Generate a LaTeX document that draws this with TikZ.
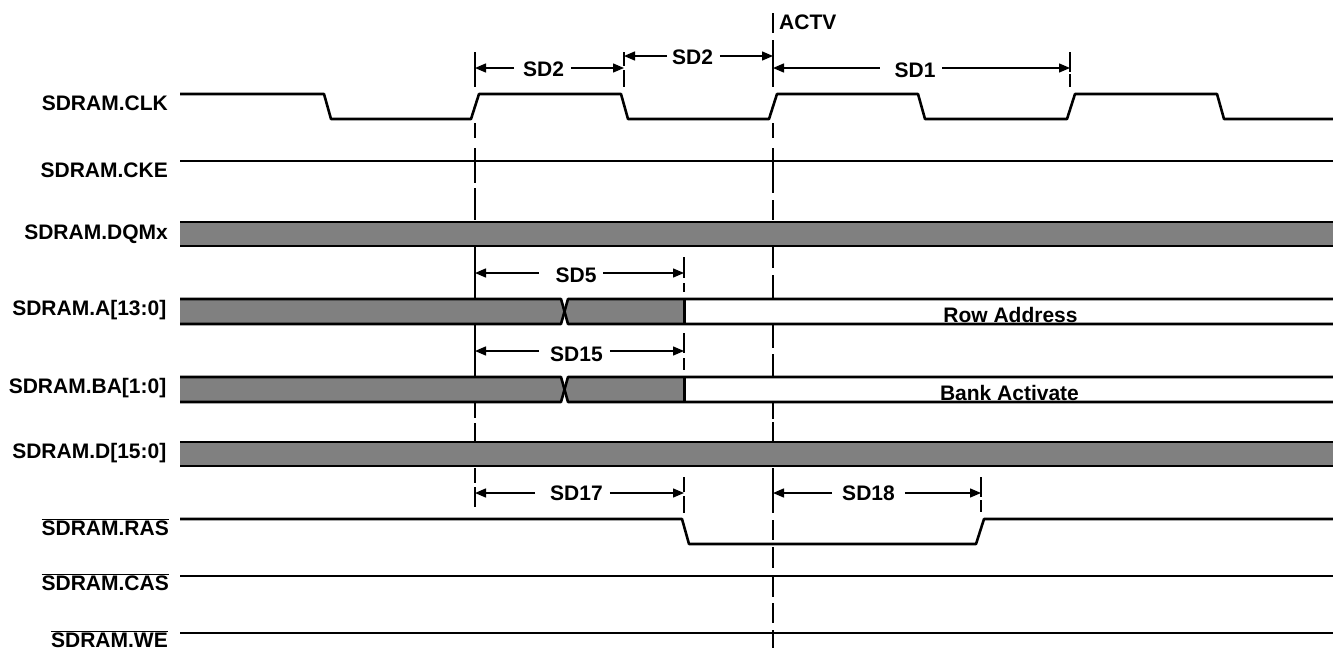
\documentclass[tikz,border=0pt]{standalone}
\usepackage{fontspec}
\setmainfont{Liberation Sans}
\usetikzlibrary{arrows.meta, calc, positioning}
\definecolor{bus}{RGB}{128,128,128}

\begin{document}
\begin{tikzpicture}[
  x=1pt, y=-1pt,
  every node/.style={font=\fontsize{21}{24}\selectfont\bfseries, inner sep=0pt},
  signame/.style={anchor=base east},
  wave/.style={draw, line width=2.6pt, line join=round},
  busfill/.style={fill=bus},
  tick/.style={draw, line width=1.4pt},
  dim/.style={draw, line width=1.4pt, -{Triangle[length=11pt,width=9pt]}},
  dimlabel/.style={text height=#1, text depth=0pt, outer xsep=7pt},
  dimlabel/.default=15pt,
]
\useasboundingbox (0,0) rectangle (1333,648);

% vertical time marks
\foreach \a/\b in {52/87,123/138,148/183,188/220,247/298,325/377,403/418,423/442,468/483,487/507}
  \draw[tick] (475,\a) -- (475,\b);
\foreach \a/\b in {13/33,40/87,123/138,148/193,200/220,247/268,275/298,325/348,354/377,403/419,422/442,468/513,520/540,547/568,575/597,603/623,630/648}
  \draw[tick] (773,\a) -- (773,\b);
\foreach \a/\b in {52/66,70/87}
  \draw[tick] (624,\a) -- (624,\b);
\foreach \a/\b in {52/72,74/87}
  \draw[tick] (1070,\a) -- (1070,\b);
\foreach \a/\b in {257/278,283/292,333/353,358/370,477/492,496/513}
  \draw[tick] (684,\a) -- (684,\b);
\foreach \a/\b in {477/497,500/512}
  \draw[tick] (981,\a) -- (981,\b);
\coordinate (tA) at (475,0);
\coordinate (tB) at (624,0);
\coordinate (tC) at (773,0);
\coordinate (tD) at (1070,0);
\coordinate (tE) at (684,0);
\coordinate (tF) at (981,0);

% signal names
\node[signame] (clk) at (168,110) {SDRAM.CLK};
\node[signame] (cke) at (168,177) {SDRAM.CKE};
\node[signame] (dqm) at (168,239.5) {SDRAM.DQMx};
\node[signame] (addr) at (166.5,315) {SDRAM.A[13:0]};
\node[signame] (bank) at (166.5,393.5) {SDRAM.BA[1:0]};
\node[signame] (data) at (166.5,458) {SDRAM.D[15:0]};
\node[signame] (ras) at (169,535) {$\overline{\mbox{SDRAM.RAS}}$};
\node[signame] (cas) at (169,590) {$\overline{\mbox{SDRAM.CAS}}$};
\node[signame] (we) at (168,647) {$\overline{\mbox{SDRAM.WE}}$};

% clock
\draw[wave] (180,94) -- (324,94) -- (331,119) -- (471,119) -- (479,94) -- (621,94)
  -- (628,119) -- (769,119) -- (777,94) -- (918,94) -- (925,119) -- (1067,119)
  -- (1075,94) -- (1217,94) -- (1224,119) -- (1333,119);

% flat lines
\foreach \y in {161,576,633}
  \draw[wave] (180,\y) -- (1333,\y);
\draw[wave] (180,519) -- (682,519) -- (689,544) -- (976,544) -- (984,519) -- (1333,519);

% full width buses
\foreach \t/\b in {222/246,442/466} {
  \fill[busfill] (180,\t) rectangle (1333,\b);
  \draw[wave] (180,\t) -- (1333,\t);
  \draw[wave] (180,\b) -- (1333,\b);
}

% buses that change value
\foreach \t/\m/\b in {299/311.5/324,377/389.5/402} {
  \fill[busfill] (180,\t) -- (561,\t) -- (564.5,\m) -- (561,\b) -- (180,\b) -- cycle;
  \fill[busfill] (568,\t) -- (564.5,\m) -- (568,\b) -- (684,\b) -- (684,\t) -- cycle;
  \draw[wave] (180,\t) -- (561,\t) -- (568,\b) -- (1333,\b);
  \draw[wave] (180,\b) -- (561,\b) -- (568,\t) -- (1333,\t);
  \draw[line width=3pt] (684,\t) -- (684,\b);
}
\node[anchor=base] (rowaddr) at (1010.5,322) {Row Address};
\node[anchor=base] (bankact) at (1009.5,400) {Bank Activate};

% timing labels
\node[anchor=west] (actv) at (779,22) {ACTV};
\node[dimlabel=17pt] (sdA) at (543.5,68) {SD2};
\node[dimlabel=17pt] (sdB) at (692.5,56) {SD2};
\node[dimlabel=19pt] (sdC) at (915,68) {SD1};
\node[dimlabel=19pt] (sdD) at (576,273) {SD5};
\node[dimlabel=21pt] (sdE) at (576.5,351) {SD15};
\node[dimlabel=14pt] (sdF) at (576.5,493) {SD17};
\node[dimlabel] (sdG) at (868.5,493) {SD18};

\draw[dim] ([xshift=-2pt]sdA.west) -- (sdA.west -| tA);
\draw[dim] (sdA.east) -- (sdA.east -| tB);
\draw[dim] ([xshift=2pt]sdB.west) -- (sdB.west -| tB);
\draw[dim] (sdB.east) -- (sdB.east -| tC);
\draw[dim] ([xshift=-8pt]sdC.west) -- (sdC.west -| tC);
\draw[dim] (sdC.east) -- (sdC.east -| tD);
\draw[dim] ([xshift=-10pt]sdD.west) -- (sdD.west -| tA);
\draw[dim] (sdD.east) -- (sdD.east -| tE);
\draw[dim] ([xshift=-4pt]sdE.west) -- (sdE.west -| tA);
\draw[dim] (sdE.east) -- (sdE.east -| tE);
\draw[dim] ([xshift=-8pt]sdF.west) -- (sdF.west -| tA);
\draw[dim] (sdF.east) -- (sdF.east -| tE);
\draw[dim] ([xshift=-3pt]sdG.west) -- (sdG.west -| tC);
\draw[dim] ([xshift=3pt]sdG.east) -- (sdG.east -| tF);
\end{tikzpicture}
\end{document}
